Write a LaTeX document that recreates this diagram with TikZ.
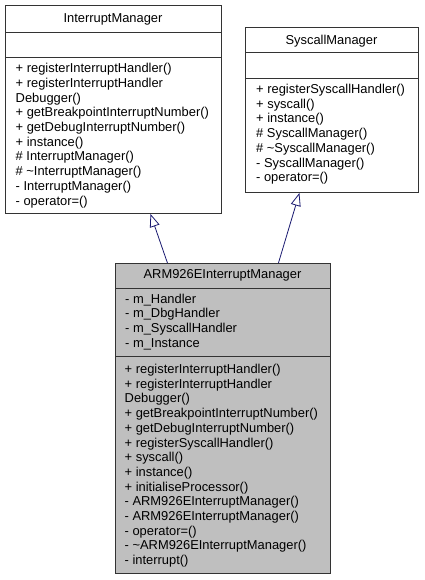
\documentclass[tikz,border=0pt]{standalone}
\usepackage{fontspec}
\setmainfont{Liberation Sans}
\usetikzlibrary{arrows.meta}
\definecolor{edgeblue}{HTML}{191970}
\definecolor{classgrey}{HTML}{BFBFBF}
\tikzset{
  classbox/.style={draw=black!80, line width=0.9pt, fill=white, anchor=north west, inner sep=0pt},
  sepline/.style={draw=black!80, line width=0.9pt},
  classname/.style={anchor=base, inner sep=0pt, font=\fontsize{12.9}{14.7}\selectfont},
  members/.style={anchor=north west, align=left, inner sep=0pt, font=\fontsize{12.9}{14.7}\selectfont, execute at begin node=\strut},
  inherit/.style={draw=edgeblue, line width=0.8pt, -{Triangle[open, length=13pt, width=10pt]}}
}
\begin{document}
\begin{tikzpicture}[x=1pt, y=-1pt]
\useasboundingbox (0,0) rectangle (424,580);

\node[classbox, minimum width=216pt, minimum height=208pt] (im) at (5,5) {};
\node[classname] (imname) at (113,22.7) {InterruptManager};
\draw[sepline] (im.west |- 0,32) -- (im.east |- 0,32);
\draw[sepline] (im.west |- 0,57) -- (im.east |- 0,57);
\node[members] (imops) at (15.5,63.2) {+ registerInterruptHandler()\\+ registerInterruptHandler\\Debugger()\\+ getBreakpointInterruptNumber()\\+ getDebugInterruptNumber()\\+ instance()\\\# InterruptManager()\\\# \textasciitilde InterruptManager()\\- InterruptManager()\\- operator=()};

\node[classbox, minimum width=173pt, minimum height=165pt] (sm) at (245,27) {};
\node[classname] (smname) at (331.5,44.3) {SyscallManager};
\draw[sepline] (sm.west |- 0,52) -- (sm.east |- 0,52);
\draw[sepline] (sm.west |- 0,78) -- (sm.east |- 0,78);
\node[members] (smops) at (256,84) {+ registerSyscallHandler()\\+ syscall()\\+ instance()\\\# SyscallManager()\\\# \textasciitilde SyscallManager()\\- SyscallManager()\\- operator=()};

\node[classbox, fill=classgrey, minimum width=215pt, minimum height=310pt] (arm) at (115,263) {};
\node[classname] (armname) at (222.5,278.3) {ARM926EInterruptManager};
\draw[sepline] (arm.west |- 0,288) -- (arm.east |- 0,288);
\draw[sepline] (arm.west |- 0,356) -- (arm.east |- 0,356);
\node[members] (armattrs) at (125,293.7) {- m\_Handler\\- m\_DbgHandler\\- m\_SyscallHandler\\- m\_Instance};
\node[members] (armops) at (124.5,364) {+ registerInterruptHandler()\\+ registerInterruptHandler\\Debugger()\\+ getBreakpointInterruptNumber()\\+ getDebugInterruptNumber()\\+ registerSyscallHandler()\\+ syscall()\\+ instance()\\+ initialiseProcessor()\\- ARM926EInterruptManager()\\- ARM926EInterruptManager()\\- operator=()\\- \textasciitilde ARM926EInterruptManager()\\- interrupt()};

\draw[inherit] ([xshift=-55.5pt]arm.north) -- ([xshift=37pt]im.south);
\draw[inherit] ([xshift=55.5pt]arm.north) -- ([xshift=-32.5pt]sm.south);
\end{tikzpicture}
\end{document}
